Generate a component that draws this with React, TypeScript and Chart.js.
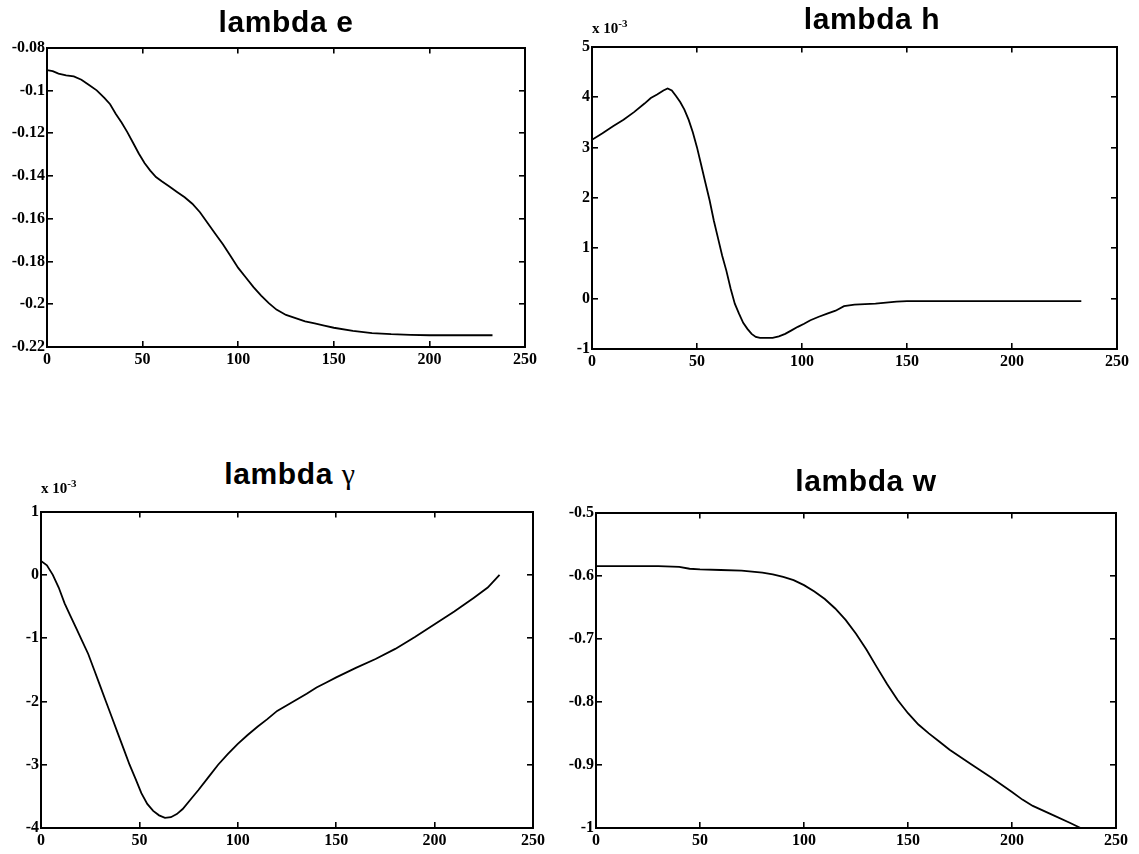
import React, { useEffect, useRef } from "react";
import { Chart, registerables } from "chart.js";

Chart.register(...registerables);

// ---------- data ----------
const xTickValues = [0, 50, 100, 150, 200, 250];

// lambda e
const eX = [0, 3, 6, 10, 14, 18, 22, 26, 30, 33, 36, 39, 42, 45, 48, 51, 54, 57, 60, 64, 68, 72, 76, 80, 84, 88, 92, 96, 100, 104, 108, 112, 116, 120, 125, 130, 135, 140, 145, 150, 160, 170, 180, 190, 200, 210, 220, 233];
const eY = [-0.0905, -0.091, -0.0922, -0.093, -0.0935, -0.095, -0.0975, -0.1, -0.1035, -0.1065, -0.111, -0.115, -0.1195, -0.1245, -0.1295, -0.134, -0.1375, -0.1405, -0.1425, -0.145, -0.1475, -0.15, -0.153, -0.157, -0.162, -0.167, -0.172, -0.1775, -0.183, -0.1875, -0.192, -0.196, -0.1995, -0.2025, -0.205, -0.2065, -0.208, -0.209, -0.21, -0.211, -0.2125, -0.2135, -0.214, -0.2143, -0.2145, -0.2145, -0.2145, -0.2145];
const eTicks = [-0.22, -0.2, -0.18, -0.16, -0.14, -0.12, -0.1, -0.08];

// lambda h (x 10^-3)
const hX = [0, 5, 10, 15, 20, 25, 28, 31, 34, 36, 38, 40, 42, 44, 46, 48, 50, 52, 54, 56, 58, 60, 62, 64, 66, 68, 70, 72, 74, 76, 78, 80, 83, 86, 89, 92, 95, 98, 101, 104, 108, 112, 116, 120, 125, 130, 135, 140, 145, 150, 160, 170, 180, 190, 200, 210, 220, 233];
const hY = [3.15, 3.28, 3.42, 3.55, 3.7, 3.87, 3.98, 4.05, 4.13, 4.17, 4.13, 4.02, 3.9, 3.75, 3.55, 3.3, 3.0, 2.65, 2.3, 1.95, 1.55, 1.2, 0.85, 0.55, 0.2, -0.1, -0.3, -0.48, -0.6, -0.7, -0.76, -0.78, -0.78, -0.78, -0.75, -0.7, -0.63, -0.56, -0.5, -0.43, -0.36, -0.3, -0.24, -0.15, -0.12, -0.11, -0.1, -0.08, -0.06, -0.05, -0.05, -0.05, -0.05, -0.05, -0.05, -0.05, -0.05, -0.05];
const hTicks = [-1, 0, 1, 2, 3, 4, 5];

// lambda gamma (x 10^-3)
const gX = [0, 3, 6, 9, 12, 15, 18, 21, 24, 27, 30, 33, 36, 39, 42, 45, 48, 51, 54, 57, 60, 63, 66, 69, 72, 76, 80, 85, 90, 95, 100, 105, 110, 115, 120, 125, 130, 135, 140, 145, 150, 160, 170, 180, 190, 200, 210, 220, 227, 233];
const gY = [0.22, 0.15, 0.0, -0.2, -0.45, -0.65, -0.85, -1.05, -1.25, -1.5, -1.75, -2.0, -2.25, -2.5, -2.75, -3.0, -3.22, -3.45, -3.62, -3.73, -3.8, -3.84, -3.83, -3.78, -3.7, -3.55, -3.4, -3.2, -3.0, -2.83, -2.67, -2.53, -2.4, -2.28, -2.15, -2.06, -1.97, -1.88, -1.78, -1.7, -1.62, -1.47, -1.33, -1.17, -0.98, -0.78, -0.58, -0.36, -0.2, 0.0];
const gTicks = [-4, -3, -2, -1, 0, 1];

// lambda w
const wX = [0, 10, 20, 30, 40, 45, 50, 60, 70, 80, 85, 90, 95, 100, 105, 110, 115, 120, 125, 130, 135, 140, 145, 150, 155, 160, 165, 170, 180, 190, 200, 205, 210, 220, 228, 233];
const wY = [-0.585, -0.585, -0.585, -0.585, -0.586, -0.589, -0.59, -0.591, -0.592, -0.595, -0.598, -0.602, -0.607, -0.615, -0.625, -0.637, -0.652, -0.67, -0.692, -0.717, -0.745, -0.772, -0.797, -0.818, -0.836, -0.85, -0.863, -0.876, -0.898, -0.92, -0.943, -0.955, -0.965, -0.98, -0.992, -1.0];
const wTicks = [-1, -0.9, -0.8, -0.7, -0.6, -0.5];

// ---------- layout ----------
type Box = { l: number; t: number; r: number; b: number };
type PanelCfg = {
  xs: number[];
  ys: number[];
  yTicks: number[];
  box: Box;
};

const panels: PanelCfg[] = [
  { xs: eX, ys: eY, yTicks: eTicks, box: { l: 47, t: 42, r: 526, b: 347 } },
  { xs: hX, ys: hY, yTicks: hTicks, box: { l: 592, t: 41, r: 1118, b: 349 } },
  { xs: gX, ys: gY, yTicks: gTicks, box: { l: 41, t: 506, r: 534, b: 828 } },
  { xs: wX, ys: wY, yTicks: wTicks, box: { l: 596, t: 507, r: 1117, b: 828 } },
];

const TICK_FONT = {
  family: "'Liberation Serif', 'Times New Roman', serif",
  size: 16,
  weight: "bold" as const,
};

function fmt(v: number): string {
  return String(Number(Number(v).toFixed(3)));
}

const YW = 48;
const TP = 12;
const RP = 20;
const XH = 24;

function Panel({ cfg }: { cfg: PanelCfg }) {
  const ref = useRef<HTMLCanvasElement>(null);
  const w = cfg.box.r - cfg.box.l + YW + RP;
  const h = cfg.box.b - cfg.box.t + TP + XH;

  useEffect(() => {
    if (!ref.current) return;
    const grid = {
      display: true,
      drawOnChartArea: false,
      drawTicks: true,
      tickLength: -6,
      color: "#000",
      lineWidth: 1.6,
    };
    const border = { display: true, color: "#000", width: 2 };
    const yMin = cfg.yTicks[0];
    const yMax = cfg.yTicks[cfg.yTicks.length - 1];
    const setX = (s: any) => {
      s.ticks = xTickValues.map((v) => ({ value: v }));
    };
    const setY = (s: any) => {
      s.ticks = cfg.yTicks.map((v) => ({ value: v }));
    };
    const chart = new Chart(ref.current, {
      type: "line",
      data: {
        datasets: [
          {
            data: cfg.xs.map((x, i) => ({ x, y: cfg.ys[i] })),
            borderColor: "#000",
            borderWidth: 1.8,
            pointRadius: 0,
            fill: false,
            tension: 0,
            xAxisID: "x",
            yAxisID: "y",
          },
        ],
      },
      options: {
        responsive: false,
        animation: false,
        layout: { padding: { left: 0, top: TP, right: RP, bottom: 0 } },
        plugins: {
          legend: { display: false },
          title: { display: false },
          tooltip: { enabled: false },
        },
        scales: {
          x: {
            type: "linear",
            position: "bottom",
            min: 0,
            max: 250,
            afterBuildTicks: setX,
            ticks: {
              color: "#000",
              font: TICK_FONT,
              padding: 9,
              maxRotation: 0,
              autoSkip: false,
            },
            grid,
            border,
            afterFit: (s: any) => {
              s.height = XH;
            },
          },
          x2: {
            type: "linear",
            position: "top",
            min: 0,
            max: 250,
            afterBuildTicks: setX,
            ticks: { display: false },
            grid,
            border,
            afterFit: (s: any) => {
              s.height = 0;
            },
          },
          y: {
            type: "linear",
            position: "left",
            min: yMin,
            max: yMax,
            afterBuildTicks: setY,
            ticks: {
              color: "#000",
              font: TICK_FONT,
              padding: 8,
              autoSkip: false,
              callback: (v: any) => fmt(v),
            },
            grid,
            border,
            afterFit: (s: any) => {
              s.width = YW;
            },
          },
          y2: {
            type: "linear",
            position: "right",
            min: yMin,
            max: yMax,
            afterBuildTicks: setY,
            ticks: { display: false },
            grid,
            border,
            afterFit: (s: any) => {
              s.width = 0;
            },
          },
        },
      } as any,
    });
    return () => chart.destroy();
  }, []);

  return (
    <canvas
      ref={ref}
      width={w}
      height={h}
      style={{
        position: "absolute",
        left: cfg.box.l - YW,
        top: cfg.box.t - TP,
        width: w,
        height: h,
      }}
    />
  );
}

const TITLE_FONT = 'bold 30px "Liberation Sans", Arial, Helvetica, sans-serif';

function Title({ cx, cy, children }: { cx: number; cy: number; children: any }) {
  return (
    <div
      style={{
        position: "absolute",
        left: cx - 200,
        width: 400,
        top: cy - 17.65,
        textAlign: "center",
        font: TITLE_FONT,
        letterSpacing: "0.6px",
        lineHeight: "36px",
        whiteSpace: "nowrap",
        color: "#000",
      }}
    >
      {children}
    </div>
  );
}

function Exponent({ left, top }: { left: number; top: number }) {
  return (
    <div
      style={{
        position: "absolute",
        left,
        top,
        font: 'bold 15px "Liberation Serif", "Times New Roman", serif',
        lineHeight: "18px",
        whiteSpace: "nowrap",
        color: "#000",
      }}
    >
      x 10<sup style={{ fontSize: "11px", lineHeight: 0 }}>-3</sup>
    </div>
  );
}

export default function App() {
  return (
    <div
      style={{
        position: "absolute",
        left: 0,
        top: 0,
        width: 1139,
        height: 854,
        overflow: "hidden",
        background: "#fff",
      }}
    >
      {panels.map((p, i) => (
        <Panel key={i} cfg={p} />
      ))}
      <Title cx={286} cy={22}>lambda e</Title>
      <Title cx={872} cy={19}>lambda h</Title>
      <Title cx={290} cy={474}>
        lambda{" "}
        <span style={{ fontFamily: '"Liberation Serif", "Times New Roman", serif', fontWeight: "normal" }}>γ</span>
      </Title>
      <Title cx={866} cy={481}>lambda w</Title>
      <Exponent left={592} top={19} />
      <Exponent left={41} top={479} />
    </div>
  );
}
